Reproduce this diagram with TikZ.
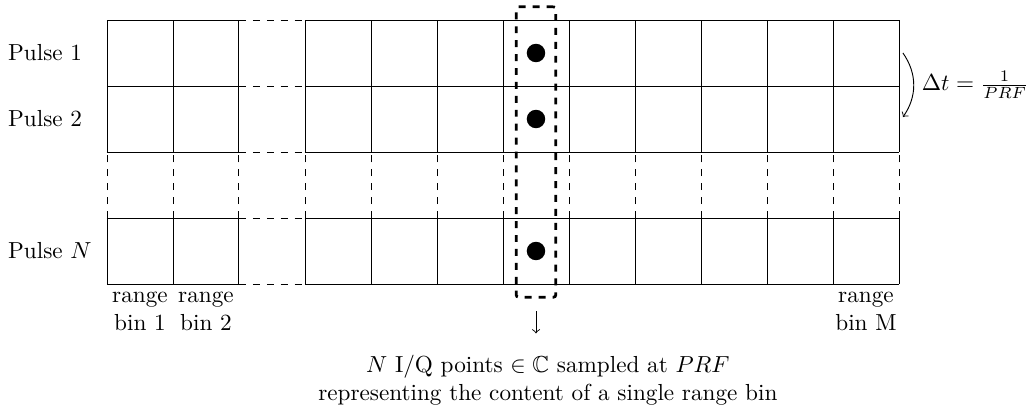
\documentclass[tikz,border=0pt]{standalone}
\usepackage{amsmath}
\usepackage{amssymb}
\usepackage{tikz}

\begin{document}
\begin{tikzpicture}
\tikzstyle{selbox}=[draw, very thick, dashed, rounded corners=1pt, minimum width=0.6cm, minimum height=4.4cm, inner sep=0pt]
\tikzstyle{binlbl}=[below, align=center]
\useasboundingbox (-1.621,0.303) rectangle (13.97,-5.955);
% pulses 1, 2 and N
\draw [black] (0,0) grid (2,-2);
\draw [black] (3,0) grid (12,-2);
\draw [black] (0,-3) grid (2,-4);
\draw [black] (3,-3) grid (12,-4);
% skipped pulses
\draw [black, dashed] (0,-2) grid (2,-3);
\draw [black, dashed] (3,-2) grid (12,-3);
% skipped range bins
\draw [black, dashed] (2,0) -- (3,0);
\draw [black, dashed] (2,-1) -- (3,-1);
\draw [black, dashed] (2,-2) -- (3,-2);
\draw [black, dashed] (2,-3) -- (3,-3);
\draw [black, dashed] (2,-4) -- (3,-4);
% samples of one range bin
\fill [black] (6.5,-0.5) circle (0.14);
\fill [black] (6.5,-1.5) circle (0.14);
\fill [black] (6.5,-3.5) circle (0.14);
\draw (6.5,-2) node [selbox] (sel) {};
% row labels
\draw (-1.621,-0.5) node [right] (p1) {Pulse 1};
\draw (-1.621,-1.5) node [right] (p2) {Pulse 2};
\draw (-1.621,-3.5) node [right] (pn) {Pulse $N$};
% column labels
\draw (0.5,-4) node [binlbl] (b1) {range\\bin 1};
\draw (1.5,-4) node [binlbl] (b2) {range\\bin 2};
\draw (11.5,-4) node [binlbl] (bm) {range\\bin M};
% pulse repetition
\coordinate (t1) at (12.06,-0.5);
\coordinate (t2) at (12.06,-1.47);
\draw [black, ->] (t1) to [bend left=35] node [right] (dt) {$\Delta t = \frac{1}{PRF}$} (t2);
% slow time vector
\draw (6.68,-5.955) node [above, align=center] (info) {$N$ I/Q points $\in \mathbb{C}$ sampled at $PRF$\\representing the content of a single range bin};
\draw [black, ->, shorten <=5.4pt, shorten >=5.7pt] (sel.south) -- (sel.south |- info.north);
\end{tikzpicture}
\end{document}
